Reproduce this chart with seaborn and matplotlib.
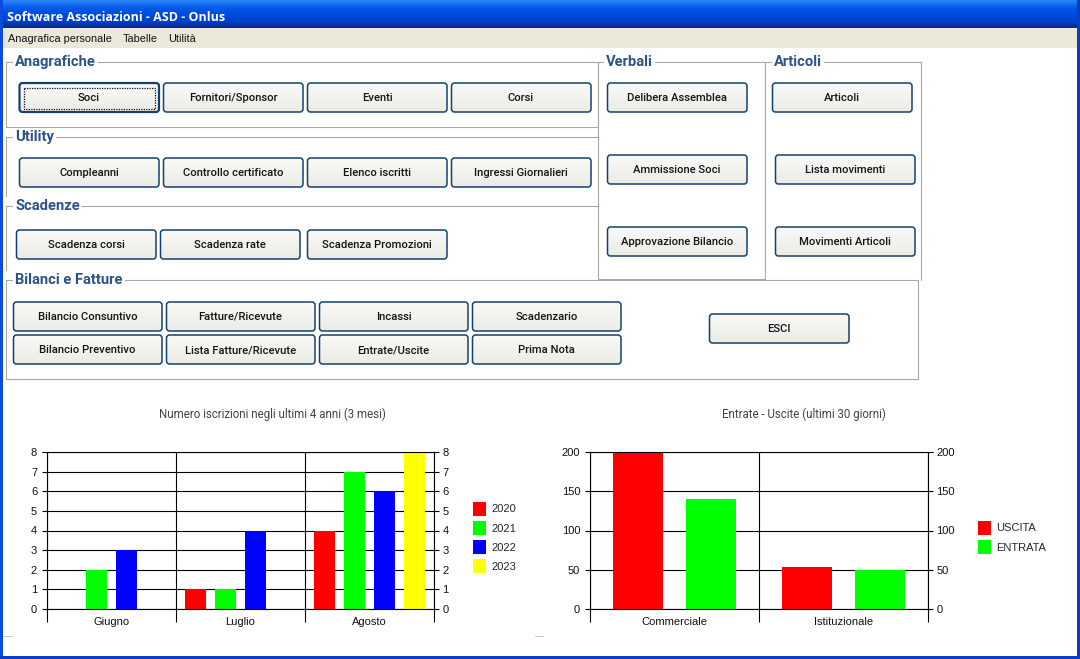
import numpy as np
import pandas as pd
import matplotlib
matplotlib.use('Agg')
import matplotlib.pyplot as plt
from matplotlib.patches import FancyBboxPatch, Rectangle
import seaborn as sns

months = ['Giugno', 'Luglio', 'Agosto']
years = ['2020', '2021', '2022', '2023']
iscritti_2020 = [0, 1, 4]
iscritti_2021 = [2, 1, 7]
iscritti_2022 = [3, 4, 6]
iscritti_2023 = [0, 0, 8]
year_colors = ['#ff0000', '#00ff00', '#0000ff', '#ffff00']

areas = ['Commerciale', 'Istituzionale']
flows = ['USCITA', 'ENTRATA']
uscite = [200, 54]
entrate = [140, 50]
flow_colors = ['#ff0000', '#00ff00']

window_title = 'Software Associazioni - ASD - Onlus'
menu_items = [('Anagrafica personale', 8), ('Tabelle', 123), ('Utilità', 168)]
group_titles = ['Anagrafiche', 'Utility', 'Scadenze', 'Bilanci e Fatture', 'Verbali', 'Articoli']

W, H = 1080, 659
BLUE_TITLE = '#2c5288'
FRAME = '#aaa89f'


def px_axes(fig, x0, y0, x1, y1):
    return fig.add_axes([x0 / W, 1 - y1 / H, (x1 - x0) / W, (y1 - y0) / H])


def button(bg, x0, y0, x1, y1, label, focused=False):
    box = FancyBboxPatch((x0 + 2.5, y0 + 2), x1 - x0 - 4.5, y1 - y0 - 4, boxstyle='round,pad=2,rounding_size=3',
                         facecolor='none', edgecolor='#16416e', linewidth=1.6 if focused else 1.1, zorder=3)
    bg.add_patch(box)
    grad = np.linspace(0, 1, 32).reshape(-1, 1)
    top, bottom = np.array([0.975, 0.975, 0.965]), np.array([0.925, 0.925, 0.905])
    img = top + (bottom - top) * grad[..., None]
    im = bg.imshow(img, extent=(x0, x1, y1, y0), aspect='auto', zorder=2)
    im.set_clip_path(box)
    if focused:
        bg.add_patch(Rectangle((x0 + 4.5, y0 + 4.5), x1 - x0 - 9, y1 - y0 - 8, facecolor='none', edgecolor='#111111',
                               linewidth=0.9, linestyle=(0, (1, 1)), zorder=4))
    # baseline anchored so every label sits at the same height
    bg.text((x0 + x1) / 2, (y0 + y1) / 2 + 3.5, label, ha='center', va='baseline', family='Roboto', weight='medium',
            fontsize=8.1, color='#151515', zorder=5)


def group_frame(bg, title, x0, y0, x1, y1, sides='ltrb', tx=None):
    if 't' in sides:
        bg.plot([x0, x1], [y0, y0], color=FRAME, lw=0.8, zorder=1)
    if 'b' in sides:
        bg.plot([x0, x1], [y1, y1], color=FRAME, lw=0.8, zorder=1)
    if 'l' in sides:
        bg.plot([x0, x0], [y0, y1], color=FRAME, lw=0.8, zorder=1)
    if 'r' in sides:
        bg.plot([x1, x1], [y0, y1], color=FRAME, lw=0.8, zorder=1)
    bg.text(tx if tx else x0 + 9, y0 + 4, title, ha='left', va='baseline', family='Roboto', weight='bold',
            fontsize=10.6, color=BLUE_TITLE, zorder=2,
            bbox=dict(facecolor='white', edgecolor='none', pad=1.5))


def draw_window(fig):
    bg = fig.add_axes([0, 0, 1, 1], zorder=0)
    bg.set_axis_off()

    grad = np.array([[0.14, 0.50, 0.95], [0.05, 0.38, 0.93], [0.0, 0.33, 0.90], [0.0, 0.30, 0.87],
                     [0.0, 0.27, 0.83], [0.0, 0.25, 0.80], [0.03, 0.18, 0.58]])
    bg.imshow(grad[:, None, :], extent=(0, W, 28, 0), aspect='auto', zorder=1, interpolation='bilinear')
    bg.add_patch(Rectangle((0, 28), W, 20, facecolor='#ece8d9', edgecolor='none', zorder=1))
    bg.add_patch(Rectangle((0, 0), 3, H, facecolor='#0b4be0', edgecolor='none', zorder=6))
    bg.add_patch(Rectangle((W - 3, 0), 3, H, facecolor='#0a3db8', edgecolor='none', zorder=6))
    bg.add_patch(Rectangle((0, H - 3), W, 3, facecolor='#0a3ec8', edgecolor='none', zorder=6))

    bg.text(7, 21, window_title, ha='left', va='baseline', family='Open Sans', weight='bold', fontsize=9,
            color='white', zorder=7)
    for label, x in menu_items:
        bg.text(x, 42, label, ha='left', va='baseline', family='Liberation Sans', fontsize=7.8, color='#111111', zorder=7)

    group_frame(bg, group_titles[0], 6, 62, 598, 127)
    group_frame(bg, group_titles[1], 6, 137, 598, 196, sides='tl')
    group_frame(bg, group_titles[2], 6, 206, 598, 270, sides='tl')
    group_frame(bg, group_titles[3], 6, 280, 918, 379, sides='tlbr')
    group_frame(bg, group_titles[4], 598, 62, 765, 279, sides='tlb', tx=606)
    group_frame(bg, group_titles[5], 765, 62, 921, 280, sides='tlr', tx=774)

    row_x = [(19, 159), (163, 303), (307, 447), (451, 591)]
    for (x0, x1), label in zip(row_x, ['Soci', 'Fornitori/Sponsor', 'Eventi', 'Corsi']):
        button(bg, x0, 83, x1, 112, label, focused=label == 'Soci')
    for (x0, x1), label in zip(row_x, ['Compleanni', 'Controllo certificato', 'Elenco iscritti', 'Ingressi Giornalieri']):
        button(bg, x0, 158, x1, 187, label)
    for (x0, x1), label in zip([(16, 156), (160, 300), (307, 447)], ['Scadenza corsi', 'Scadenza rate', 'Scadenza Promozioni']):
        button(bg, x0, 230, x1, 259, label)

    bil_x = [(13, 162), (166, 315), (319, 468), (472, 621)]
    for (x0, x1), label in zip(bil_x, ['Bilancio Consuntivo', 'Fatture/Ricevute', 'Incassi', 'Scadenzario']):
        button(bg, x0, 302, x1, 331, label)
    for (x0, x1), label in zip(bil_x, ['Bilancio Preventivo', 'Lista Fatture/Ricevute', 'Entrate/Uscite', 'Prima Nota']):
        button(bg, x0, 335, x1, 364, label)
    button(bg, 709, 314, 849, 343, 'ESCI')

    for y0, label in zip([83, 155, 227], ['Delibera Assemblea', 'Ammissione Soci', 'Approvazione Bilancio']):
        button(bg, 607, y0, 747, y0 + 29, label)
    button(bg, 772, 83, 912, 112, 'Articoli')
    button(bg, 775, 155, 915, 184, 'Lista movimenti')
    button(bg, 775, 227, 915, 256, 'Movimenti Articoli')

    # the faint separators left of and between the charts
    bg.plot([3, 12], [636, 636], color='#c8c8c8', lw=0.7, zorder=1)
    bg.plot([535, 543], [636, 636], color='#c8c8c8', lw=0.7, zorder=1)

    bg.text(272.5, 418, 'Numero iscrizioni negli ultimi 4 anni (3 mesi)', ha='center', va='baseline', family='Roboto',
            fontsize=8.3, color='#444444')
    bg.text(803.5, 418, 'Entrate - Uscite (ultimi 30 giorni)', ha='center', va='baseline', family='Roboto',
            fontsize=8.3, color='#444444')

    bg.set_xlim(0, W)
    bg.set_ylim(H, 0)


def style_chart(ax, yticks):
    n = len(ax.get_xticks())
    ax.set_xlim(-0.5, n - 0.5)
    ax.set_ylim(yticks[0], yticks[-1])
    ax.set_yticks(yticks)
    ax.set_xlabel('')
    ax.set_ylabel('')
    ax.patch.set_alpha(0)
    ax.set_axisbelow(True)
    ax.grid(axis='y', color='black', lw=0.8)
    ax.set_xticks(np.arange(n + 1) - 0.5, minor=True)
    ax.grid(axis='x', which='minor', color='black', lw=0.8)
    ax.tick_params(axis='x', which='major', length=0, pad=6, labelsize=8, labelcolor='#111111')
    ax.tick_params(axis='x', which='minor', bottom=True, length=9.4, width=0.8, color='black')
    ax.tick_params(axis='y', left=True, length=3.6, width=0.8, color='black', labelsize=8, labelcolor='#111111', pad=3.5)
    for spine in ax.spines.values():
        spine.set_visible(True)
        spine.set_color('black')
        spine.set_linewidth(0.8)
    for label in ax.get_xticklabels() + ax.get_yticklabels():
        label.set_family('Liberation Sans')

    twin = ax.twinx()
    twin.set_ylim(yticks[0], yticks[-1])
    twin.set_yticks(yticks)
    twin.grid(False)
    twin.tick_params(axis='y', right=True, length=3.6, width=0.8, color='black', labelsize=8, labelcolor='#111111', pad=2.5)
    for spine in twin.spines.values():
        spine.set_visible(False)
    for label in twin.get_yticklabels():
        label.set_family('Liberation Sans')


def place_legend(ax, x, y):
    handles, labels = ax.get_legend_handles_labels()
    fig = ax.figure
    fig.legend(handles, labels, loc='upper left', bbox_to_anchor=(x / W, 1 - y / H), frameon=False,
               prop={'family': 'Liberation Sans', 'size': 8}, handlelength=1.2, handleheight=1.5,
               handletextpad=0.45, labelspacing=0.5, borderpad=0, borderaxespad=0)
    ax.get_legend().remove()


def plot_iscrizioni(fig):
    df = pd.DataFrame({'mese': months, '2020': iscritti_2020, '2021': iscritti_2021,
                       '2022': iscritti_2022, '2023': iscritti_2023})
    long = df.melt(id_vars='mese', var_name='anno', value_name='iscritti')
    ax = px_axes(fig, 47, 452, 434, 609)
    ax.set_zorder(2)
    sns.barplot(data=long, x='mese', y='iscritti', hue='anno', hue_order=years, palette=year_colors,
                width=0.93, gap=0.3, saturation=1, linewidth=0, ax=ax)
    style_chart(ax, list(range(0, 9)))
    place_legend(ax, 473, 502)


def plot_entrate_uscite(fig):
    df = pd.DataFrame({'area': areas, 'USCITA': uscite, 'ENTRATA': entrate})
    long = df.melt(id_vars='area', var_name='tipo', value_name='importo')
    ax = px_axes(fig, 590, 452, 928, 609)
    ax.set_zorder(2)
    sns.barplot(data=long, x='area', y='importo', hue='tipo', hue_order=flows, palette=flow_colors,
                width=0.865, gap=0.32, saturation=1, linewidth=0, ax=ax)
    style_chart(ax, [0, 50, 100, 150, 200])
    place_legend(ax, 978, 521)


def main():
    sns.set_theme(style='white')
    fig = plt.figure(figsize=(W / 100, H / 100), dpi=100, facecolor='white')
    draw_window(fig)
    plot_iscrizioni(fig)
    plot_entrate_uscite(fig)
    fig.savefig('out.png', dpi=100)
    plt.close(fig)


if __name__ == '__main__':
    main()
